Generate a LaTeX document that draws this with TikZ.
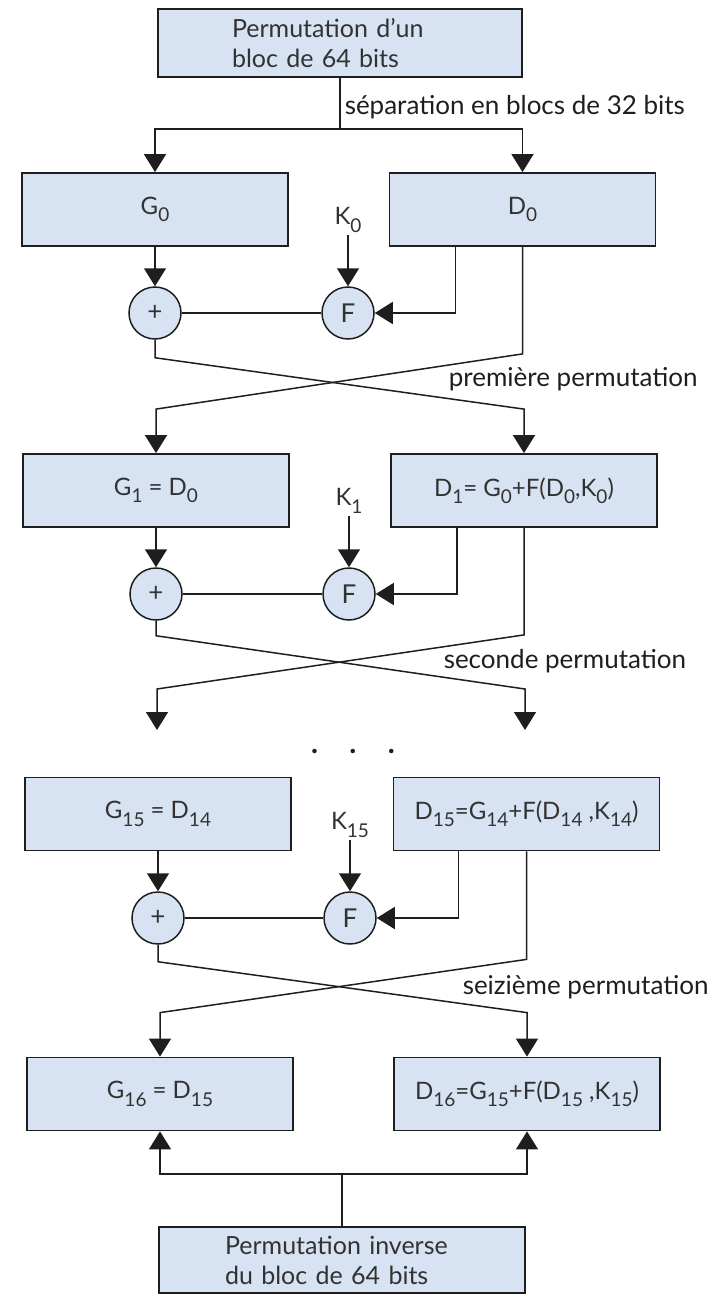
\documentclass[tikz,border=0pt]{standalone}
\usepackage{fontspec}
\setmainfont{Lato}
\usetikzlibrary{arrows.meta,positioning}

\definecolor{bleu}{RGB}{215,227,242}
\definecolor{trait}{RGB}{30,30,30}
\definecolor{encre}{RGB}{50,50,50}
\newcommand{\sbs}[1]{\raisebox{-0.6ex}{\fontsize{9.5}{10}\selectfont #1}}

\tikzset{
  bloc/.style={draw=trait, line width=0.9pt, fill=bleu, minimum width=133pt,
    minimum height=36.5pt, inner sep=0pt, text=encre, font=\fontsize{12}{14}\selectfont},
  bloc64/.style={bloc, minimum height=34pt, inner xsep=37pt, text width=108pt, align=left,
    font=\fontsize{12.5}{15}\selectfont},
  op/.style={circle, draw=trait, line width=0.75pt, fill=bleu, minimum size=26pt,
    inner sep=0pt, text=encre, font=\fontsize{13}{14}\selectfont},
  cle/.style={anchor=south, inner sep=1pt, text=encre, font=\fontsize{12}{14}\selectfont},
  etiq/.style={anchor=west, inner sep=0pt, font=\fontsize{13}{15}\selectfont},
  fleche/.style={-{Triangle[length=9pt,width=11pt]}},
}

\begin{document}
\begin{tikzpicture}[x=0.5pt, y=-0.5pt, line width=0.75pt, color=trait]

	\useasboundingbox (0,0) rectangle (727,1295);

	% bloc de depart
	\node[bloc64] (perm) at (340,43) {Permutation d'un\\bloc de 64 bits};
	\coordinate (sep) at (340,129);
	\node[etiq] (lsep) at (344,107) {séparation en blocs de 32 bits};

	% tour 1
	\node[bloc] (g0) at (155,209.5) {G\sbs{0}};
	\node[bloc] (d0) at (522.5,209.5) {D\sbs{0}};
	\node[op] (p0) at (155,313) {+};
	\node[op] (f0) at (348,313) {F};
	\node[cle] (k0) at (348,235) {K\sbs{0}};

	\draw (perm.south) -- (sep);
	\draw[fleche] (sep) -| (g0.north);
	\draw[fleche] (sep) -| (d0.north);
	\draw[fleche] (g0) -- (p0);
	\draw[fleche] (k0) -- (f0);
	\draw[fleche] ([xshift=-33.5pt]d0.south) |- (f0.east);
	\draw (p0) -- (f0);

	% tour 2
	\node[bloc] (g1) at (156,490.5) {G\sbs{1} = D\sbs{0}};
	\node[bloc] (d1) at (524,490.5) {D\sbs{1}= G\sbs{0}+F(D\sbs{0},K\sbs{0})};
	\node[op] (p1) at (156,594) {+};
	\node[op] (f1) at (349,594) {F};
	\node[cle] (k1) at (349,516) {K\sbs{1}};

	\draw[fleche] (p0.south) -- ++(0,18) -- ([yshift=22pt]d1.north) -- (d1.north);
	\draw[fleche] (d0.south) -- ++(0,107) -- ([yshift=22pt]g1.north) -- (g1.north);
	\node[etiq] (lperm1) at (448,379) {première permutation};

	\draw[fleche] (g1) -- (p1);
	\draw[fleche] (k1) -- (f1);
	\draw[fleche] ([xshift=-33.5pt]d1.south) |- (f1.east);
	\draw (p1) -- (f1);

	% vers les tours suivants
	\coordinate (ga) at (157,730);
	\coordinate (da) at (525,730);
	\draw[fleche] (p1.south) -- ++(0,15) -- ([yshift=20.5pt]da) -- (da);
	\draw[fleche] (d1.south) -- ++(0,107) -- ([yshift=20.5pt]ga) -- (ga);
	\node[etiq] (lperm2) at (443,661) {seconde permutation};

	\node[font=\fontsize{18}{18}\selectfont] (pts) at (353,752) {.\hspace{15pt}.\hspace{15pt}.};

	% tour 16
	\node[bloc] (g15) at (158,814) {G\sbs{15} = D\sbs{14}};
	\node[bloc] (d15) at (526.5,814) {D\sbs{15}=G\sbs{14}+F(D\sbs{14} ,K\sbs{14})};
	\node[op] (p15) at (158,918) {+};
	\node[op] (f15) at (350,918) {F};
	\node[cle] (k15) at (350,840) {K\sbs{15}};

	\draw[fleche] (g15) -- (p15);
	\draw[fleche] (k15) -- (f15);
	\draw[fleche] ([xshift=-34pt]d15.south) |- (f15.east);
	\draw (p15) -- (f15);

	% sortie
	\node[bloc] (g16) at (160,1094) {G\sbs{16} = D\sbs{15}};
	\node[bloc] (d16) at (527,1094) {D\sbs{16}=G\sbs{15}+F(D\sbs{15} ,K\sbs{15})};

	\draw[fleche] (p15.south) -- ++(0,17) -- ([yshift=22pt]d16.north) -- (d16.north);
	\draw[fleche] (d15.south) -- ++(0,108) -- ([yshift=22pt]g16.north) -- (g16.north);
	\node[etiq] (lperm16) at (462,987) {seizième permutation};

	\node[bloc64, inner xsep=33pt, text width=117pt, minimum height=33pt] (inv) at (342,1260) {Permutation inverse\\du bloc de 64 bits};
	\coordinate (fus) at (342,1174);
	\draw (inv.north) -- (fus);
	\draw[fleche] (fus) -| (g16.south);
	\draw[fleche] (fus) -| (d16.south);

\end{tikzpicture}
\end{document}
